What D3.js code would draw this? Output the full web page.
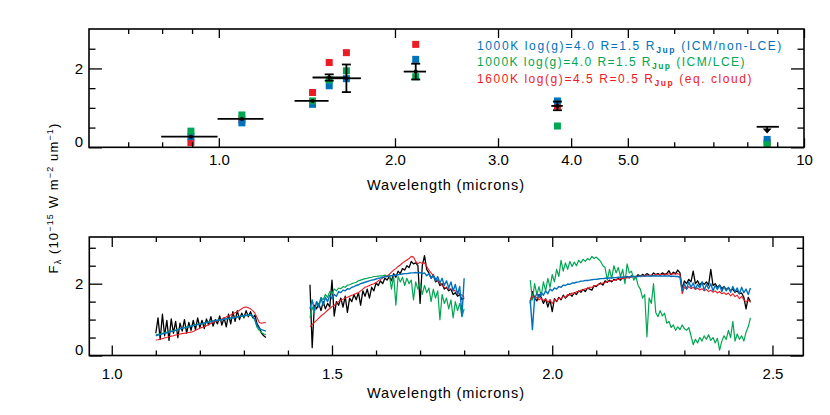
<!DOCTYPE html>
<html><head><meta charset="utf-8">
<script src="https://cdn.jsdelivr.net/npm/d3@7"></script>
<style>
body{margin:0;background:#fff}
svg{display:block}
text{font-family:"Liberation Sans",Arial,Helvetica,sans-serif}
</style>
</head><body>
<svg id="chart" width="830" height="415"></svg>
<script>
// ---------------- DATA ----------------
// Top panel: photometry
const photWave  = [0.896, 1.095, 1.446, 1.544, 1.652, 2.17, 3.79, 8.65];
const photLo    = [0.797, 0.995, 1.347, 1.446, 1.553, 2.07, 3.70, 8.30];
const photHi    = [0.995, 1.192, 1.540, 1.645, 1.749, 2.26, 3.87, 9.06];
const photFlux  = [0.27, 0.72, 1.175, 1.77, 1.75, 1.92, 1.05, 0.52];
const photErr   = [0, 0, 0, 0.08, 0.35, 0.20, 0.11, 0];
const photUpper = [false, false, false, false, false, false, false, true];
const photBlue  = [0.27, 0.62, 1.09, 1.56, 1.74, 2.23, 1.175, 0.20];
const photGreen = [0.41, 0.82, 1.175, 1.71, 1.94, 1.79, 0.54, 0.07];
const photRed   = [0.12, 0.70, 1.39, 2.15, 2.40, 2.61, 1.05, 0.12];

const topXTicks = [1, 2, 3, 4, 5, 10];
const topXTickLabels = ["1.0", "2.0", "3.0", "4.0", "5.0", "10"];
const topXMinor = [0.7, 0.8, 0.9, 6, 7, 8, 9];
const topYTicks = [0, 2];
const topYMinor = [0.5, 1.0, 1.5, 2.5];

const botXTicks = [1.0, 1.5, 2.0, 2.5];
const botXTickLabels = ["1.0", "1.5", "2.0", "2.5"];
const botXMinor = [1.1, 1.2, 1.3, 1.4, 1.6, 1.7, 1.8, 1.9, 2.1, 2.2, 2.3, 2.4];
const botYTicks = [0, 2];
const botYMinor = [0.5, 1.0, 1.5, 2.5, 3.0];

const legendLines = [
  {name: "1000K log(g)=4.0 R=1.5 R", sub: "Jup", tail: " (ICM/non-LCE)", color: "#0072bc"},
  {name: "1000K log(g)=4.0 R=1.5 R", sub: "Jup", tail: " (ICM/LCE)", color: "#00a651"},
  {name: "1600K log(g)=4.5 R=0.5 R", sub: "Jup", tail: " (eq. cloud)", color: "#ed1c24"}
];

// Bottom panel: spectra (wavelength grids, microns)
const jWave = [1.100,1.105,1.110,1.115,1.120,1.125,1.130,1.135,1.140,1.145,
  1.150,1.155,1.160,1.165,1.170,1.175,1.180,1.185,1.190,1.195,
  1.200,1.205,1.210,1.215,1.220,1.225,1.230,1.235,1.240,1.245,
  1.250,1.255,1.260,1.265,1.270,1.275,1.280,1.285,1.290,1.295,
  1.300,1.305,1.310,1.315,1.320,1.325,1.330,1.335,1.340,1.345,1.350];
const hWave = [1.450,1.455,1.460,1.465,1.470,1.475,1.480,1.485,1.490,1.495,
  1.500,1.505,1.510,1.515,1.520,1.525,1.530,1.535,1.540,1.545,
  1.550,1.555,1.560,1.565,1.570,1.575,1.580,1.585,1.590,1.595,
  1.600,1.605,1.610,1.615,1.620,1.625,1.630,1.635,1.640,1.645,
  1.650,1.655,1.660,1.665,1.670,1.675,1.680,1.685,1.690,1.695,
  1.700,1.705,1.710,1.715,1.720,1.725,1.730,1.735,1.740,1.745,
  1.750,1.755,1.760,1.765,1.770,1.775,1.780,1.785,1.790,1.795,1.800];
const kWave = [1.950,1.955,1.960,1.965,1.970,1.975,1.980,1.985,1.990,1.995,
  2.000,2.005,2.010,2.015,2.020,2.025,2.030,2.035,2.040,2.045,
  2.050,2.055,2.060,2.065,2.070,2.075,2.080,2.085,2.090,2.095,
  2.100,2.105,2.110,2.115,2.120,2.125,2.130,2.135,2.140,2.145,
  2.150,2.155,2.160,2.165,2.170,2.175,2.180,2.185,2.190,2.195,
  2.200,2.205,2.210,2.215,2.220,2.225,2.230,2.235,2.240,2.245,
  2.250,2.255,2.260,2.265,2.270,2.275,2.280,2.285,2.290,2.295,
  2.300,2.305,2.310,2.315,2.320,2.325,2.330,2.335,2.340,2.345,
  2.350,2.355,2.360,2.365,2.370,2.375,2.380,2.385,2.390,2.395,
  2.400,2.405,2.410,2.415,2.420,2.425,2.430,2.435,2.440,2.445,2.450];

// observed spectrum (black)
const obsJ = [0.62,1.05,0.45,1.15,0.55,0.98,0.42,1.02,0.62,0.95,
  0.50,0.90,0.68,1.00,0.62,0.92,0.70,0.98,0.72,1.05,
  0.78,0.98,0.75,1.02,0.85,1.08,0.82,1.00,0.88,1.10,
  0.85,1.05,0.80,1.15,0.88,1.22,0.95,1.25,1.00,1.18,
  1.05,1.25,1.08,1.22,1.05,1.12,0.88,0.78,0.62,0.55,0.50];
const obsH = [1.97,0.22,1.40,1.30,1.45,1.25,1.50,1.30,1.45,1.35,
  2.10,1.10,1.50,1.40,1.60,1.35,1.65,1.20,1.60,1.50,
  1.70,1.55,1.75,1.40,1.80,1.65,1.85,1.60,1.90,1.80,
  2.02,1.95,2.08,2.00,2.15,2.10,2.20,2.08,2.28,2.18,
  2.35,2.28,2.42,2.38,2.50,2.45,2.62,2.55,2.58,2.50,
  1.45,2.50,2.78,2.40,2.30,2.15,2.25,2.05,2.10,1.95,
  2.00,1.85,1.90,1.80,1.85,1.70,1.75,1.65,1.70,1.55,1.60];
const obsK = [1.45,1.78,1.60,1.52,1.70,1.62,1.45,1.58,1.35,1.55,
  1.22,1.58,1.50,1.62,1.55,1.68,1.60,1.66,1.72,1.65,
  1.75,1.70,1.80,1.76,1.84,1.78,1.88,1.85,1.82,1.95,
  1.92,1.98,2.02,1.96,2.08,2.04,2.10,2.05,2.12,2.10,
  2.14,2.10,2.18,2.15,2.20,2.16,2.22,2.20,2.18,2.25,
  2.20,2.26,2.22,2.28,2.24,2.22,2.30,2.25,2.28,2.24,
  2.30,2.26,2.28,2.36,2.25,2.32,2.28,2.38,2.30,1.85,
  2.08,2.00,2.12,2.05,2.35,2.00,2.08,1.96,2.04,1.98,
  2.05,1.96,2.40,1.95,2.00,1.90,1.96,1.86,1.92,1.84,
  1.88,1.80,1.85,1.76,1.80,1.72,1.74,1.62,1.30,1.62,1.50];

// model 1 (blue, ICM/non-LCE)
const blueJ = [0.55,0.57,0.58,0.60,0.62,0.63,0.65,0.67,0.68,0.70,
  0.72,0.74,0.76,0.77,0.79,0.80,0.82,0.83,0.85,0.86,
  0.88,0.89,0.90,0.92,0.93,0.94,0.96,0.97,0.98,0.99,
  1.00,1.01,1.02,1.03,1.04,1.05,1.06,1.08,1.09,1.10,
  1.11,1.12,1.13,1.13,1.10,1.00,0.82,0.75,0.72,0.70,0.68];
const blueH = [1.30,1.55,1.25,1.50,1.35,1.60,1.40,1.62,1.50,1.68,
  1.58,1.70,1.65,1.78,1.75,1.82,1.80,1.86,1.85,1.90,
  1.92,1.95,1.97,2.00,2.02,2.04,2.06,2.08,2.10,2.11,
  2.13,2.15,2.16,2.18,2.19,2.20,2.21,2.22,2.23,2.24,
  2.25,2.26,2.27,2.28,2.28,2.29,2.30,2.30,2.31,2.30,
  2.31,2.28,2.30,2.22,2.28,2.15,2.24,2.08,2.20,2.02,
  2.15,1.95,2.08,1.88,2.05,1.80,1.98,1.70,1.92,1.10,2.15];
const blueK = [1.55,0.72,1.60,1.72,1.62,1.75,1.68,1.80,1.72,1.85,
  1.80,1.88,1.85,1.92,1.90,1.96,1.95,1.99,1.98,2.02,
  2.02,2.04,2.05,2.07,2.07,2.09,2.09,2.10,2.11,2.12,
  2.12,2.13,2.14,2.14,2.15,2.15,2.16,2.16,2.17,2.17,
  2.18,2.18,2.18,2.19,2.19,2.19,2.20,2.20,2.20,2.20,
  2.21,2.21,2.21,2.21,2.21,2.22,2.21,2.22,2.21,2.22,
  2.21,2.22,2.21,2.22,2.20,2.21,2.20,2.20,2.18,1.80,
  2.00,1.85,2.05,1.90,2.02,1.85,1.98,1.88,2.05,1.82,
  1.98,1.86,2.00,1.80,1.95,1.84,1.96,1.78,1.92,1.80,
  1.90,1.76,1.92,1.78,1.88,1.72,1.90,1.75,1.85,1.70,1.88];

// model 2 (green, ICM/LCE)
const greenJ = [0.58,0.59,0.60,0.62,0.63,0.65,0.66,0.68,0.69,0.71,
  0.73,0.75,0.76,0.78,0.79,0.81,0.82,0.84,0.85,0.87,
  0.88,0.89,0.91,0.92,0.93,0.95,0.96,0.97,0.98,0.99,
  1.00,1.01,1.02,1.03,1.04,1.05,1.06,1.07,1.08,1.09,
  1.10,1.11,1.12,1.12,1.09,0.98,0.78,0.70,0.64,0.60,0.58];
const greenH = [1.05,1.35,1.20,1.50,1.40,1.62,1.55,1.70,1.62,1.78,
  1.72,1.85,1.80,1.88,1.86,1.92,1.90,1.96,1.97,2.00,
  2.02,2.04,2.08,2.10,2.12,2.14,2.15,2.17,2.18,2.20,
  2.20,2.21,2.22,2.22,2.24,2.20,2.25,1.85,2.22,1.40,
  2.20,2.05,2.18,1.95,2.15,2.00,2.10,1.55,2.05,1.85,
  2.00,1.70,1.95,1.75,1.88,1.50,1.85,1.60,1.80,1.00,
  1.70,1.45,1.60,1.30,1.55,1.05,1.50,1.25,1.45,1.08,1.30];
const greenK = [2.10,1.55,2.00,1.70,1.92,1.65,2.05,1.80,2.15,1.90,
  2.25,2.05,2.40,2.20,2.65,2.35,2.58,2.40,2.62,2.48,
  2.60,2.50,2.65,2.58,2.68,2.62,2.70,2.66,2.76,2.70,
  2.74,2.68,2.62,2.50,2.45,2.10,2.40,2.15,2.50,2.30,
  2.45,2.20,2.40,2.00,2.55,2.30,2.35,2.10,2.20,1.95,
  1.85,1.60,1.70,0.52,1.60,1.45,2.00,1.20,1.08,1.25,
  1.10,1.18,0.90,0.95,0.78,0.85,0.70,0.80,0.72,0.85,
  0.75,0.70,0.78,0.55,0.30,0.45,0.35,0.50,0.40,0.55,
  0.45,0.58,0.42,0.50,0.35,0.48,0.15,0.40,0.55,0.45,
  0.70,0.50,0.95,0.40,0.60,0.45,0.55,0.40,0.65,0.80,1.05];

// model 3 (red, eq. cloud)
const redJ = [0.43,0.44,0.46,0.47,0.49,0.50,0.52,0.54,0.55,0.57,
  0.58,0.60,0.61,0.62,0.63,0.64,0.65,0.67,0.70,0.73,
  0.76,0.78,0.80,0.83,0.86,0.89,0.92,0.95,0.97,0.99,
  1.02,1.05,1.07,1.10,1.13,1.16,1.19,1.22,1.26,1.30,
  1.34,1.35,1.33,1.30,1.25,1.18,1.05,0.92,0.90,0.91,0.92];
const redH = [0.80,0.86,0.92,0.98,1.04,1.10,1.15,1.20,1.26,1.31,
  1.36,1.40,1.45,1.50,1.54,1.57,1.60,1.62,1.65,1.68,
  1.70,1.73,1.75,1.80,1.85,1.90,1.92,1.95,1.98,2.00,
  2.03,2.08,2.12,2.16,2.20,2.22,2.26,2.32,2.38,2.42,
  2.48,2.52,2.58,2.62,2.66,2.70,2.76,2.74,2.62,2.55,
  2.60,2.56,2.58,2.48,2.38,2.30,2.22,2.15,2.08,2.02,
  1.95,1.90,1.88,1.86,1.85,1.82,1.80,1.76,1.72,1.68,1.62];
const redK = [1.55,1.65,1.58,1.62,1.55,1.60,1.52,1.58,1.48,1.55,
  1.45,1.55,1.52,1.60,1.58,1.65,1.62,1.70,1.68,1.74,
  1.72,1.78,1.78,1.82,1.82,1.86,1.86,1.90,1.90,1.94,
  1.95,1.98,1.99,2.02,2.03,2.06,2.06,2.09,2.09,2.12,
  2.12,2.14,2.14,2.16,2.16,2.18,2.18,2.20,2.19,2.21,
  2.20,2.22,2.21,2.24,2.22,2.24,2.23,2.26,2.24,2.26,
  2.25,2.27,2.25,2.28,2.26,2.28,2.26,2.28,2.25,1.72,
  1.90,1.85,1.92,1.86,1.90,1.84,1.88,1.82,1.86,1.80,
  1.84,1.78,1.82,1.76,1.80,1.74,1.78,1.72,1.75,1.70,
  1.74,1.66,1.72,1.64,1.68,1.58,1.65,1.55,1.50,1.55,1.48];

// ---------------- DRAWING ----------------
const COL = {blue: "#0072bc", green: "#00a651", red: "#ed1c24", black: "#000"};
const svg = d3.select("#chart");
const FONT = '"Liberation Sans", Arial, Helvetica, sans-serif';

// Top panel scales
const xTop = d3.scaleLog().domain([0.6, 10]).range([89, 804]);
const yTop = d3.scaleLinear().domain([0, 3]).range([147.3, 29]);
// Bottom panel scales
const xBot = d3.scaleLinear().domain([0.949, 2.570]).range([89.3, 803.3]);
const yBot = d3.scaleLinear().domain([0, 3.3]).range([355.5, 237]);

function drawAxes(x, y, o) {
  const g = svg.append("g");
  const [xl, xr] = x.range();
  const [yb, yt] = y.range();
  const style = sel => sel.attr("font-family", FONT).attr("font-size", 15)
      .call(s => s.selectAll(".domain").remove())
      .call(s => s.selectAll("line").attr("stroke", "#000").attr("stroke-width", 1.3))
      .call(s => s.selectAll("text").attr("fill", "#000"));
  // bottom
  g.append("g").attr("transform", `translate(0,${yb})`)
    .call(d3.axisBottom(x).tickValues(o.xMajor).tickFormat((d, i) => o.xLabels[i])
      .tickSizeInner(-o.xMajLen).tickSizeOuter(0).tickPadding(o.xPad)).call(style);
  g.append("g").attr("transform", `translate(0,${yb})`)
    .call(d3.axisBottom(x).tickValues(o.xMinor).tickFormat("")
      .tickSizeInner(-o.xMinLen).tickSizeOuter(0)).call(style);
  // top
  g.append("g").attr("transform", `translate(0,${yt})`)
    .call(d3.axisTop(x).tickValues(o.xMajor).tickFormat("")
      .tickSizeInner(-o.xMajLen).tickSizeOuter(0)).call(style);
  g.append("g").attr("transform", `translate(0,${yt})`)
    .call(d3.axisTop(x).tickValues(o.xMinor).tickFormat("")
      .tickSizeInner(-o.xMinLen).tickSizeOuter(0)).call(style);
  // left
  const left = g.append("g").attr("transform", `translate(${xl},0)`)
    .call(d3.axisLeft(y).tickValues(o.yMajor).tickFormat(d => String(d))
      .tickSizeInner(-13).tickSizeOuter(0).tickPadding(6)).call(style);
  left.selectAll(".tick text").attr("dy", d => d === 0 ? "-0.05em" : "0.32em");
  g.append("g").attr("transform", `translate(${xl},0)`)
    .call(d3.axisLeft(y).tickValues(o.yMinor).tickFormat("")
      .tickSizeInner(-6.5).tickSizeOuter(0)).call(style);
  // right
  g.append("g").attr("transform", `translate(${xr},0)`)
    .call(d3.axisRight(y).tickValues(o.yMajor).tickFormat("")
      .tickSizeInner(-13).tickSizeOuter(0)).call(style);
  g.append("g").attr("transform", `translate(${xr},0)`)
    .call(d3.axisRight(y).tickValues(o.yMinor).tickFormat("")
      .tickSizeInner(-6.5).tickSizeOuter(0)).call(style);
  // frame
  g.append("rect").attr("x", xl).attr("y", yt).attr("width", xr - xl).attr("height", yb - yt)
    .attr("fill", "none").attr("stroke", "#000").attr("stroke-width", 1.6);
}

// ---- top panel ----
svg.append("clipPath").attr("id", "clipTop").append("rect")
  .attr("x", 89).attr("y", 29).attr("width", 804 - 89).attr("height", 147.3 - 29);
const gTop = svg.append("g").attr("clip-path", "url(#clipTop)");
const S = 7;
[[photRed, COL.red], [photBlue, COL.blue], [photGreen, COL.green]].forEach(([vals, c]) => {
  gTop.selectAll(null).data(vals).enter().append("rect")
    .attr("x", (d, i) => xTop(photWave[i]) - S / 2)
    .attr("y", d => yTop(d) - S / 2)
    .attr("width", S).attr("height", S).attr("fill", c);
});
// observed photometry
const gObs = svg.append("g").attr("stroke", "#000").attr("stroke-width", 1.8);
photFlux.forEach((f, i) => {
  const cx = xTop(photWave[i]), cy = yTop(f);
  gObs.append("line").attr("x1", xTop(photLo[i])).attr("x2", xTop(photHi[i]))
    .attr("y1", cy).attr("y2", cy);
  if (photErr[i] > 0) {
    const ya = yTop(f + photErr[i]), yb = yTop(f - photErr[i]);
    gObs.append("line").attr("x1", cx).attr("x2", cx).attr("y1", ya).attr("y2", yb);
    gObs.append("line").attr("x1", cx - 4.5).attr("x2", cx + 4.5).attr("y1", ya).attr("y2", ya);
    gObs.append("line").attr("x1", cx - 4.5).attr("x2", cx + 4.5).attr("y1", yb).attr("y2", yb);
  }
  if (photUpper[i]) {
    const yEnd = yTop(f - 0.12);
    gObs.append("line").attr("x1", cx).attr("x2", cx).attr("y1", cy).attr("y2", yEnd);
    svg.append("path").attr("d", `M${cx - 4.5},${yEnd - 3}L${cx + 4.5},${yEnd - 3}L${cx},${yEnd + 2}Z`)
      .attr("fill", "#000");
  } else {
    svg.append("circle").attr("cx", cx).attr("cy", cy).attr("r", 2).attr("fill", "#000");
  }
});

drawAxes(xTop, yTop, {xMajor: topXTicks, xLabels: topXTickLabels, xMinor: topXMinor,
  xMajLen: 9, xMinLen: 5, xPad: 7, yMajor: topYTicks, yMinor: topYMinor});

// legend
legendLines.forEach((L, i) => {
  const t = svg.append("text").attr("x", 477).attr("y", 49.5 + i * 16.7)
    .attr("fill", L.color).attr("font-size", 12);
  t.append("tspan").text(L.name);
  t.append("tspan").attr("dy", 3).attr("font-size", 8.5).attr("font-weight", "bold").text(L.sub);
  t.append("tspan").attr("dy", -3).text(L.tail);
  const target = [306, 269, 276][i];
  const w = t.node().getComputedTextLength();
  const n = (L.name + L.sub + L.tail).length;
  t.attr("letter-spacing", ((target - w) / n).toFixed(3));
});

// titles
function title(x, y, txt, len) {
  svg.append("text").attr("x", x).attr("y", y).attr("text-anchor", "middle")
    .attr("font-size", 14.5).attr("fill", "#000")
    .attr("textLength", len).attr("lengthAdjust", "spacing").text(txt);
}
title(445.5, 189.5, "Wavelength (microns)", 157);
title(445.5, 397.5, "Wavelength (microns)", 157);

// y label
const yl = svg.append("text").attr("transform", "translate(58,198) rotate(-90)")
  .attr("text-anchor", "middle").attr("font-size", 13).attr("fill", "#000");
yl.append("tspan").text("F");
yl.append("tspan").attr("dy", 3).attr("font-size", 9).text("λ");
yl.append("tspan").attr("dy", -3).text(" (10");
yl.append("tspan").attr("dy", -5).attr("font-size", 9).text("−15");
yl.append("tspan").attr("dy", 5).text(" W m");
yl.append("tspan").attr("dy", -5).attr("font-size", 9).text("−2");
yl.append("tspan").attr("dy", 5).text(" um");
yl.append("tspan").attr("dy", -5).attr("font-size", 9).text("−1");
yl.append("tspan").attr("dy", 5).text(")");
{
  const w = yl.node().getComputedTextLength();
  yl.attr("letter-spacing", ((152 - w) / 22).toFixed(3));
}

// ---- bottom panel ----
const line = d3.line().x(d => xBot(d[0])).y(d => yBot(d[1]));
const zip = (w, v) => w.map((x, i) => [x, v[i]]);
const gSpec = svg.append("g").attr("fill", "none").attr("stroke-linejoin", "round");
const series = [
  {wave: [jWave, hWave, kWave], vals: [obsJ, obsH, obsK], color: COL.black, w: 1.3},
  {wave: [jWave, hWave, kWave], vals: [greenJ, greenH, greenK], color: COL.green, w: 1.2},
  {wave: [jWave, hWave, kWave], vals: [redJ, redH, redK], color: COL.red, w: 1.1},
  {wave: [jWave, hWave, kWave], vals: [blueJ, blueH, blueK], color: COL.blue, w: 1.4}
];
series.forEach(s => {
  s.wave.forEach((wv, b) => {
    gSpec.append("path").attr("d", line(zip(wv, s.vals[b])))
      .attr("stroke", s.color).attr("stroke-width", s.w);
  });
});

drawAxes(xBot, yBot, {xMajor: botXTicks, xLabels: botXTickLabels, xMinor: botXMinor,
  xMajLen: 10, xMinLen: 5, xPad: 13, yMajor: botYTicks, yMinor: botYMinor});
</script>
</body></html>
